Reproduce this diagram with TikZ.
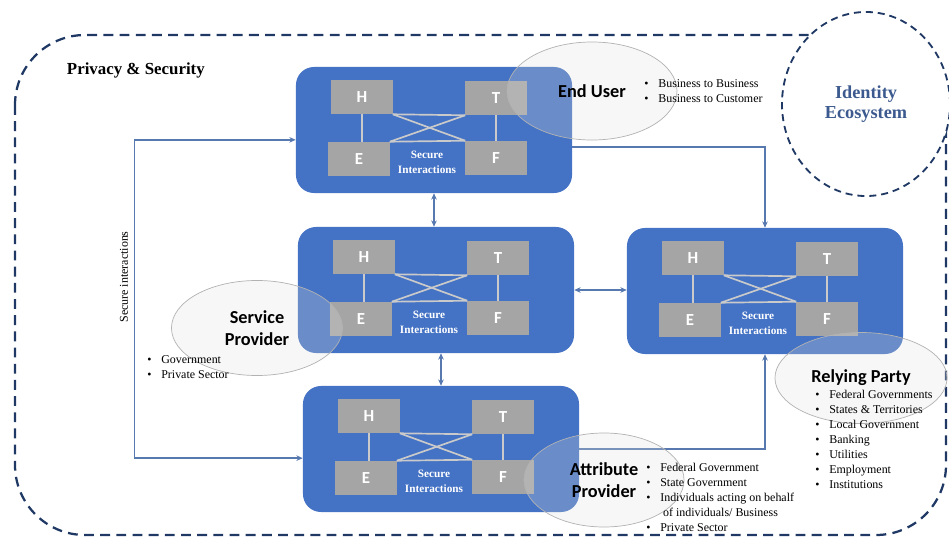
\documentclass[tikz,border=0pt]{standalone}
\usepackage{fontspec}
\setmainfont{Liberation Serif}
\newfontfamily\calfont{Carlito}
\usetikzlibrary{arrows.meta,shapes.geometric}

\definecolor{boxblue}{HTML}{4472C4}
\definecolor{keygray}{HTML}{A5A5A5}
\definecolor{wiregray}{HTML}{CACACA}
\definecolor{linkblue}{HTML}{5779B0}
\definecolor{navy}{HTML}{1F3864}
\definecolor{ecoblue}{HTML}{3C5A8F}

\tikzset{
  bluebox/.style={fill=boxblue, rounded corners=0.45cm, minimum width=6.9cm, minimum height=3.15cm},
  keybox/.style={fill=keygray, minimum width=1.525cm, minimum height=0.85cm, text=white,
    font=\calfont\bfseries\fontsize{12}{12}\selectfont},
  secure/.style={text=white, align=center, inner sep=0pt, font=\bfseries\fontsize{8}{10.7}\selectfont},
  wire/.style={draw=wiregray, line width=1.2pt},
  link/.style={draw=linkblue, line width=1pt},
  role/.style={ellipse, draw=gray!60, line width=0.5pt, fill=gray!25, fill opacity=0.25, text opacity=1,
    inner sep=0pt, align=center, font=\calfont\bfseries\fontsize{13}{15.5}\selectfont},
  items/.style={anchor=north west, inner sep=0pt, align=left, font=\fontsize{8.5}{10.7}\selectfont},
  frame/.style={draw=navy, line width=1.6pt, dash pattern=on 7pt off 4.5pt}
}

\begin{document}
\begin{tikzpicture}[x=0.025cm, y=-0.025cm, >={Stealth[length=4.5pt,width=4pt]}]
  \useasboundingbox (0,0) rectangle (949,540);

  % dashed frame and ecosystem circle
  \draw[frame, rounded corners=1.75cm] (15,35) rectangle (946,535);
  \node[ellipse, frame, line width=1.3pt, dash pattern=on 5pt off 3.5pt, fill=white,
    minimum width=4.2cm, minimum height=4.6cm, inner sep=0pt, align=center, text=ecoblue,
    font=\bfseries\fontsize{13}{14.5}\selectfont] (eco) at (866,104) {Identity\\Ecosystem};
  \node[anchor=west, font=\bfseries\fontsize{12}{14}\selectfont] (title) at (62,70) {Privacy \& Security};

  % the four parties
  \foreach \b/\x/\y in {eu/434/130, sp/436/290, rp/765/291, ap/441/449} {
    \node[bluebox] (\b) at (\x,\y) {};
    \node[keybox] (\b-H) at ({\x-72},{\y-33}) {H};
    \node[keybox] (\b-T) at ({\x+62},{\y-32}) {T};
    \node[keybox] (\b-E) at ({\x-75},{\y+29}) {E};
    \node[keybox] (\b-F) at ({\x+62},{\y+28}) {F};
    \node[secure] (\b-S) at ({\x-7},{\y+32}) {Secure\\Interactions};
    \draw[wire] (\b-H.south) -- (\b-H.south |- \b-E.north);
    \draw[wire] (\b-T) -- (\b-F);
    \draw[wire] (\b-H.south east) -- (\b-T.south west);
    \draw[wire] (\b-E.north east) -- (\b-F.north west);
    \draw[wire] (\b-H.south east) -- (\b-F.north west);
    \draw[wire] (\b-T.south west) -- (\b-E.north east);
  }

  % connectors
  \draw[link,<->] (eu.south) -- (eu.south |- sp.north);
  \draw[link,<->] (ap.north |- sp.south) -- (ap.north);
  \draw[link,<->] (sp.east) -- (sp.east -| rp.west);
  \draw[link,->] ([yshift=-12pt]eu.east) -| (rp.north);
  \draw[link,->] (ap.east) -| (rp.south);
  \draw[link,<->] ([yshift=-7pt]eu.west) -- ++(-161,0) |- ([yshift=-6.5pt]ap.west);
  \node[rotate=90, font=\fontsize{8.5}{10}\selectfont] (loopLabel) at (124,277) {Secure interactions};

  % roles
  \node[role, minimum width=4.25cm, minimum height=2.45cm] (euRole) at (592,91) {End User};
  \node[role, minimum width=4.275cm, minimum height=2.375cm] (spRole) at (257,328) {Service\\Provider};
  \node[role, minimum width=4.3cm, minimum height=2.275cm] (rpRole) at (861,378) {Relying Party};
  \node[role, minimum width=4.0cm, minimum height=2.35cm] (apRole) at (604,480) {Attribute\\Provider};

  \node[items] (euItems) at (644,79) {\textbullet\hspace{7pt}Business to Business\\
    \textbullet\hspace{7pt}Business to Customer};
  \node[items] (spItems) at (147,355) {\textbullet\hspace{7pt}Government\\
    \textbullet\hspace{7pt}Private Sector};
  \node[items] (rpItems) at (815,390) {\textbullet\hspace{7pt}Federal Governments\\
    \textbullet\hspace{7pt}States \& Territories\\
    \textbullet\hspace{7pt}Local Government\\
    \textbullet\hspace{7pt}Banking\\
    \textbullet\hspace{7pt}Utilities\\
    \textbullet\hspace{7pt}Employment\\
    \textbullet\hspace{7pt}Institutions};
  \node[items] (apItems) at (646,463) {\textbullet\hspace{7pt}Federal Government\\
    \textbullet\hspace{7pt}State Government\\
    \textbullet\hspace{7pt}Individuals acting on behalf\\
    \phantom{\textbullet}\hspace{9pt}of individuals/ Business\\
    \textbullet\hspace{7pt}Private Sector};
\end{tikzpicture}
\end{document}
